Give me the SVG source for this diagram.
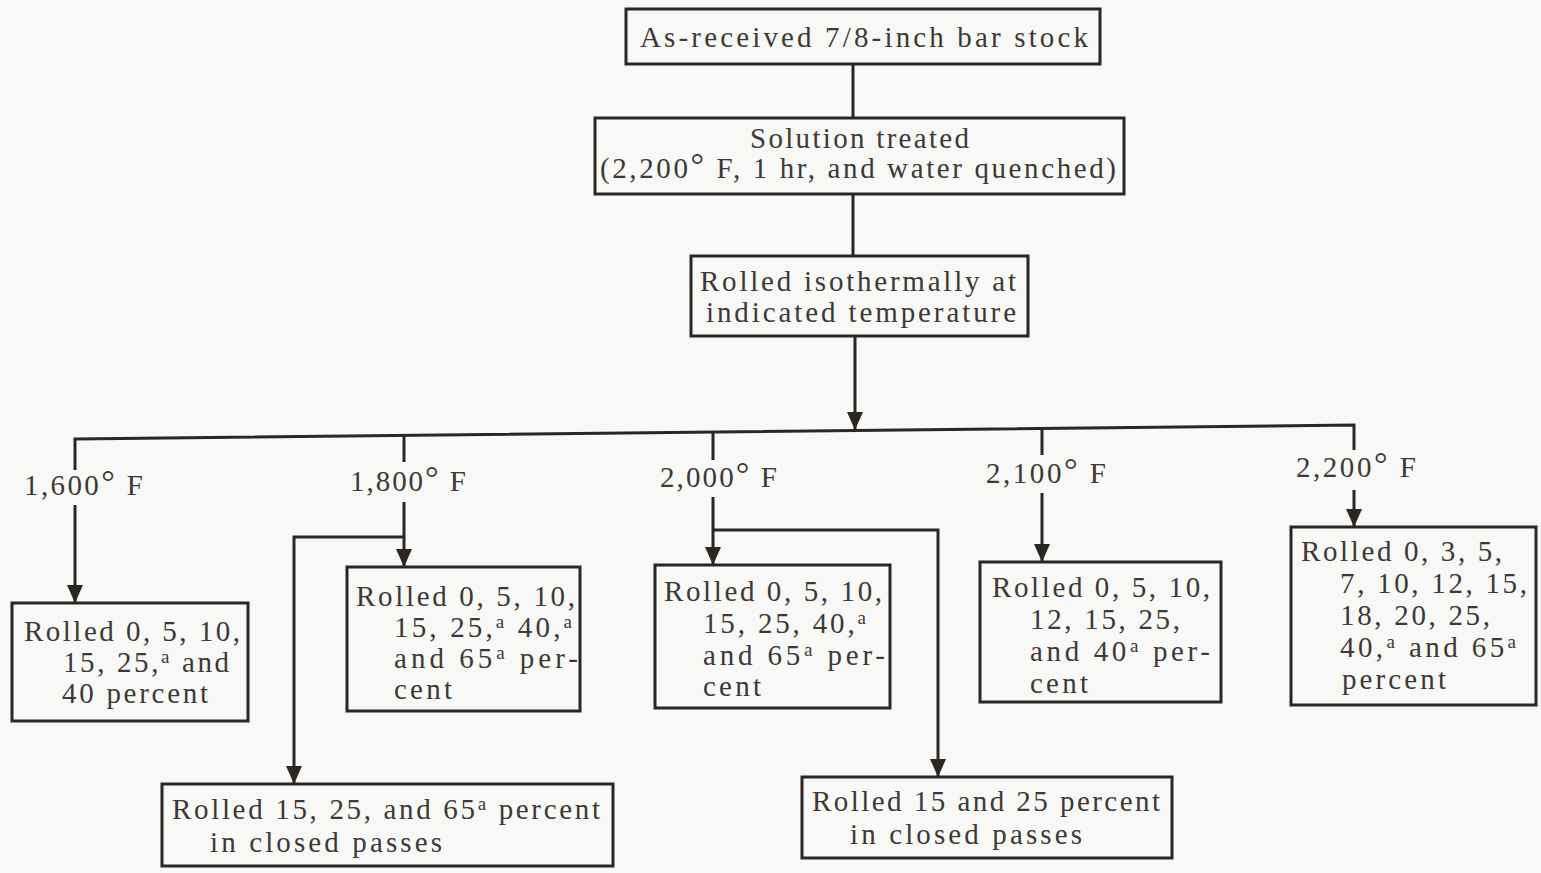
<svg xmlns="http://www.w3.org/2000/svg" width="1541" height="873" viewBox="0 0 1541 873">
<defs>
<style>
.bg{fill:#f8f8f6}
.box{fill:none;stroke:#2b2624;stroke-width:3}
.ln{fill:none;stroke:#2b2624;stroke-width:3}
text{font-family:"Liberation Serif","DejaVu Serif",serif;font-size:29px;fill:#3d3835}
.sup{font-size:19px}
.deg{font-size:34px}
</style>
<marker id="ah" viewBox="0 0 18 16" refX="18" refY="8" markerWidth="18" markerHeight="16" markerUnits="userSpaceOnUse" orient="auto">
<path d="M0,0 L18,8 L0,16 z" fill="#2b2624"/>
</marker>
</defs>
<rect class="bg" x="0" y="0" width="1541" height="873"/>

<g id="connectors">
<line class="ln" x1="853" y1="64" x2="853" y2="118"/>
<line class="ln" x1="853" y1="194" x2="853" y2="256"/>
<line class="ln" x1="855" y1="336" x2="855" y2="430" marker-end="url(#ah)"/>
<path class="ln" d="M75,470 L75,439 L1354,425 L1354,450"/>
<line class="ln" x1="404" y1="436" x2="404" y2="462"/>
<line class="ln" x1="713" y1="433" x2="713" y2="460"/>
<line class="ln" x1="1042" y1="429" x2="1042" y2="455"/>
<line class="ln" x1="75" y1="505" x2="75" y2="603" marker-end="url(#ah)"/>
<line class="ln" x1="404" y1="502" x2="404" y2="567" marker-end="url(#ah)"/>
<path class="ln" d="M404,537 L294,537 L294,784" marker-end="url(#ah)"/>
<line class="ln" x1="713" y1="497" x2="713" y2="565" marker-end="url(#ah)"/>
<path class="ln" d="M713,530 L938,530 L938,777" marker-end="url(#ah)"/>
<line class="ln" x1="1042" y1="493" x2="1042" y2="562" marker-end="url(#ah)"/>
<line class="ln" x1="1354" y1="490" x2="1354" y2="527" marker-end="url(#ah)"/>
<text x="24" y="495" textLength="119" lengthAdjust="spacing">1,600<tspan class="deg" dy="-2">°</tspan><tspan dy="2"> F</tspan></text>
<text x="350" y="491" textLength="116" lengthAdjust="spacing">1,800<tspan class="deg" dy="-2">°</tspan><tspan dy="2"> F</tspan></text>
<text x="660" y="487" textLength="117" lengthAdjust="spacing">2,000<tspan class="deg" dy="-2">°</tspan><tspan dy="2"> F</tspan></text>
<text x="986" y="483" textLength="120" lengthAdjust="spacing">2,100<tspan class="deg" dy="-2">°</tspan><tspan dy="2"> F</tspan></text>
<text x="1296" y="477" textLength="120" lengthAdjust="spacing">2,200<tspan class="deg" dy="-2">°</tspan><tspan dy="2"> F</tspan></text>
</g>

<g id="n-asreceived">
<rect class="box" x="626" y="9" width="474" height="55"/>
<text x="640" y="47" textLength="448" lengthAdjust="spacing">As-received 7/8-inch bar stock</text>
</g>

<g id="n-solution">
<rect class="box" x="595" y="118" width="529" height="76"/>
<text x="750" y="148" textLength="219" lengthAdjust="spacing">Solution treated</text>
<text x="600" y="178" textLength="516" lengthAdjust="spacing">(2,200<tspan class="deg" dy="-2">°</tspan><tspan dy="2"> F, 1 hr, and water quenched)</tspan></text>
</g>

<g id="n-rolled-iso">
<rect class="box" x="691" y="256" width="337" height="80"/>
<text x="700" y="291" textLength="316" lengthAdjust="spacing">Rolled isothermally at</text>
<text x="706" y="322" textLength="310" lengthAdjust="spacing">indicated temperature</text>
</g>

<g id="n-1600">
<rect class="box" x="12" y="603" width="236" height="118"/>
<text x="24" y="641" textLength="216" lengthAdjust="spacing">Rolled 0, 5, 10,</text>
<text x="63" y="672" textLength="166" lengthAdjust="spacing">15, 25,<tspan class="sup" dy="-9">a</tspan><tspan dy="9"> and</tspan></text>
<text x="62" y="703" textLength="146" lengthAdjust="spacing">40 percent</text>
</g>

<g id="n-1800">
<rect class="box" x="347" y="567" width="233" height="144"/>
<text x="356" y="606" textLength="219" lengthAdjust="spacing">Rolled 0, 5, 10,</text>
<text x="394" y="637" textLength="178" lengthAdjust="spacing">15, 25,<tspan class="sup" dy="-9">a</tspan><tspan dy="9"> 40,</tspan><tspan class="sup" dy="-9">a</tspan></text>
<text x="394" y="668" textLength="184" lengthAdjust="spacing">and 65<tspan class="sup" dy="-9">a</tspan><tspan dy="9"> per-</tspan></text>
<text x="394" y="699" textLength="58" lengthAdjust="spacing">cent</text>
</g>

<g id="n-2000">
<rect class="box" x="655" y="565" width="235" height="143"/>
<text x="664" y="601" textLength="218" lengthAdjust="spacing">Rolled 0, 5, 10,</text>
<text x="703" y="633" textLength="163" lengthAdjust="spacing">15, 25, 40,<tspan class="sup" dy="-9">a</tspan></text>
<text x="703" y="665" textLength="182" lengthAdjust="spacing">and 65<tspan class="sup" dy="-9">a</tspan><tspan dy="9"> per-</tspan></text>
<text x="703" y="696" textLength="58" lengthAdjust="spacing">cent</text>
</g>

<g id="n-2100">
<rect class="box" x="980" y="562" width="241" height="140"/>
<text x="992" y="597" textLength="218" lengthAdjust="spacing">Rolled 0, 5, 10,</text>
<text x="1030" y="629" textLength="150" lengthAdjust="spacing">12, 15, 25,</text>
<text x="1030" y="661" textLength="180" lengthAdjust="spacing">and 40<tspan class="sup" dy="-9">a</tspan><tspan dy="9"> per-</tspan></text>
<text x="1030" y="693" textLength="58" lengthAdjust="spacing">cent</text>
</g>

<g id="n-2200">
<rect class="box" x="1291" y="527" width="245" height="178"/>
<text x="1301" y="561" textLength="201" lengthAdjust="spacing">Rolled 0, 3, 5,</text>
<text x="1340" y="593" textLength="187" lengthAdjust="spacing">7, 10, 12, 15,</text>
<text x="1340" y="625" textLength="150" lengthAdjust="spacing">18, 20, 25,</text>
<text x="1340" y="657" textLength="176" lengthAdjust="spacing">40,<tspan class="sup" dy="-9">a</tspan><tspan dy="9"> and 65</tspan><tspan class="sup" dy="-9">a</tspan></text>
<text x="1342" y="689" textLength="104" lengthAdjust="spacing">percent</text>
</g>

<g id="n-closed-1800">
<rect class="box" x="162" y="784" width="451" height="82"/>
<text x="172" y="819" textLength="428" lengthAdjust="spacing">Rolled 15, 25, and 65<tspan class="sup" dy="-9">a</tspan><tspan dy="9"> percent</tspan></text>
<text x="210" y="852" textLength="232" lengthAdjust="spacing">in closed passes</text>
</g>

<g id="n-closed-2000">
<rect class="box" x="802" y="777" width="370" height="81"/>
<text x="812" y="811" textLength="348" lengthAdjust="spacing">Rolled 15 and 25 percent</text>
<text x="850" y="844" textLength="232" lengthAdjust="spacing">in closed passes</text>
</g>
</svg>
